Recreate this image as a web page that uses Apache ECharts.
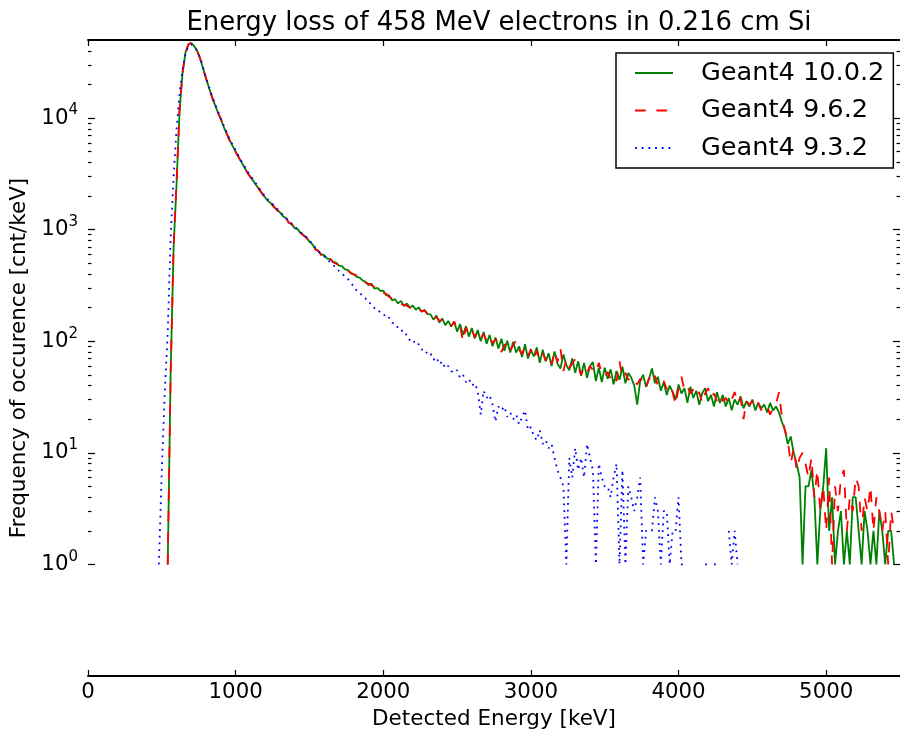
<!DOCTYPE html>
<html>
<head>
<meta charset="utf-8">
<script src="https://cdn.jsdelivr.net/npm/echarts@6/dist/echarts.min.js"></script>
<style>
    html, body { margin: 0; padding: 0; background: #fff; }
    #chart { width: 900px; height: 736px; }
</style>
</head>
<body>
<div id="chart"></div>
<script>
// bin centres [keV], 20 keV wide
const energies = [];
for (let e = 480; e <= 5460; e += 20) energies.push(e);

// cnt/keV, one row = 10 bins (200 keV), null = empty bin
const g4_10_0_2 = [
    null, null, null, 1, 55, 700, 2600, 11500, 25000, 38500,
    45500, 47000, 44000, 39800, 34000, 27600, 22600, 18600, 15400, 13100,
    11200, 9700, 8300, 7200, 6300, 5600, 5000, 4450, 4000, 3600,
    3240, 2950, 2730, 2490, 2300, 2090, 1940, 1800, 1720, 1590,
    1500, 1430, 1320, 1270, 1160, 1120, 1030, 1010, 930, 895,
    845, 780, 740, 670, 640, 600, 590, 550, 545, 515,
    505, 475, 470, 440, 435, 405, 400, 378, 372, 350,
    340, 318, 328, 296, 300, 282, 284, 258, 257, 232,
    238, 218, 230, 206, 218, 199, 209, 191, 201, 184,
    189, 175, 174, 156, 170, 147, 160, 139, 152, 135,
    150, 122, 142, 114, 136, 110, 131, 106, 126, 100,
    121, 95, 114, 90, 108, 86, 105, 82, 101, 79,
    99, 79, 90, 72, 94, 70, 83, 73, 88, 64,
    84, 66, 78, 60, 81, 63, 57, 76, 61, 55,
    70, 52, 66, 49, 64, 47, 60, 65, 44, 58,
    43, 58, 46, 56, 41, 54, 45, 59, 42, 52,
    47, 40, 27, 44, 50, 39, 46, 57, 42, 48,
    36, 43, 33, 40, 35, 30, 41, 34, 38, 28,
    39, 31, 36, 27, 34, 38, 29, 33, 26, 35,
    28, 33, 26, 31, 24, 30, 27, 32, 25, 29,
    26, 30, 24, 28, 25, 27, 23, 28, 24, 26,
    23, 19, 16, 12, 14, 10, 8, 6, 1, 5,
    5, 7, 4, 1, 3, 5, 11, 2, 4, 1,
    2, 3, 1, 2, 1, 4, 4, 2, 1, 3,
    2, 1, 2, 1, 3, 2, 1, 2, 2, 1
];

const g4_9_6_2 = [
    null, null, null, 1, 50, 720, 2700, 11800, 25500, 38000,
    45800, 47200, 43800, 39600, 34200, 27500, 22500, 18500, 15500, 13000,
    11150, 9750, 8250, 7250, 6250, 5650, 4950, 4480, 3980, 3620,
    3220, 2970, 2710, 2510, 2280, 2110, 1920, 1820, 1700, 1610,
    1490, 1440, 1310, 1280, 1150, 1130, 1020, 1000, 950, 880,
    850, 770, 745, 665, 645, 590, 595, 545, 550, 510,
    495, 480, 462, 445, 428, 410, 395, 388, 365, 358,
    335, 328, 318, 305, 292, 290, 272, 265, 250, 240,
    230, 226, 215, 212, 208, 200, 204, 192, 196, 185,
    190, 174, 176, 158, 165, 152, 155, 145, 147, 136,
    150, 128, 138, 100, 132, 116, 128, 108, 122, 106,
    116, 100, 110, 96, 104, 98, 80, 92, 98, 83,
    92, 102, 84, 77, 89, 74, 85, 70, 82, 68,
    78, 67, 75, 62, 82, 65, 86, 54, 69, 58,
    63, 69, 60, 50, 58, 52, 60, 55, 52, 64,
    51, 48, 53, 46, 50, 44, 66, 47, 52, 45,
    48, 43, 41, 46, 44, 38, 47, 42, 49, 40,
    39, 44, 37, 41, 35, 27, 38, 48, 36, 39,
    34, 37, 32, 35, 28, 34, 38, 31, 34, 29,
    33, 29, 31, 27, 30, 35, 28, 31, 20, 29,
    27, 29, 25, 28, 24, 27, 26, 22, 25, 27,
    35, 21, 16, 13, 8, 11, 7, 9, 10, 8,
    6, 9, 4, 7, 3, 5, 2, 6, 1, 5,
    3, 6, 7, 2, 4, 3, 6, 5, 2, 4,
    3, 5, 2, 4, 3, 2, 3, 1, 3, 2
];

const g4_9_3_2 = [
    1, 7, 35, 120, 850, 3000, 8000, 16500, 27000, 37500,
    44000, 45500, 43500, 39800, 34500, 28200, 23000, 19000, 15800, 13400,
    11500, 9950, 8550, 7400, 6450, 5750, 5150, 4580, 4100, 3700,
    3320, 3030, 2790, 2560, 2340, 2150, 1980, 1850, 1740, 1640,
    1540, 1450, 1360, 1280, 1190, 1120, 1055, 1010, 950, 900,
    850, 800, 745, 690, 640, 605, 575, 540, 510, 480,
    460, 425, 410, 375, 362, 328, 315, 283, 275, 250,
    242, 220, 218, 198, 196, 180, 178, 160, 162, 146,
    145, 131, 130, 114, 115, 102, 104, 92, 94, 84,
    85, 76, 78, 68, 72, 62, 66, 57, 60, 54,
    52, 55, 47, 50, 43, 46, 40, 42, 36, 22,
    36, 31, 33, 27, 19, 26, 24, 26, 21, 23,
    20, 22, 18, 21, 24, 16, 17, 14, 13, 16,
    12, 13, 11, 12, 9, 7, 6, 5, 1, 9,
    6, 11, 7, 9, 6, 12, 9, 7, 1, 8,
    6, 5, 5, 4, 6, 8, 1, 7, 1, 5,
    4, 3, 4, 6, 1, 2, 2, 2, 4, 3,
    1, 3, 3, 1, 2, 2, 4, 1, 1, null,
    null, null, null, null, null, 1, 1, null, 1, 1,
    null, null, null, 2, 1, 2, 1, null, null, null,
    null, null, null, null, null, null, null, null, null, null,
    null, null, null, null, null, null, null, null, null, null,
    null, null, null, null, null, null, null, null, null, null,
    null, null, null, null, null, null, null, null, null, null,
    null, null, null, null, null, null, null, null, null, null
];

const seriesNames = ["Geant4 10.0.2", "Geant4 9.6.2", "Geant4 9.3.2"];
const xTicks = [0, 1000, 2000, 3000, 4000, 5000];
const yMajor = [1, 10, 100, 1000, 10000];
const yMinor = [
    2, 3, 4, 5, 6, 7, 8, 9,
    20, 30, 40, 50, 60, 70, 80, 90,
    200, 300, 400, 500, 600, 700, 800, 900,
    2000, 3000, 4000, 5000, 6000, 7000, 8000, 9000,
    20000, 30000, 40000
];

const font = "DejaVu Sans";
const black = "#000";

function pairs(vals) {
    return energies.map((e, i) => [e, vals[i]]);
}

function xAxis(position, labels) {
    return {
        type: "value",
        position: position,
        min: 0,
        max: 5500,
        interval: 1000,
        splitLine: { show: false },
        axisLine: { show: true, onZero: false, lineStyle: { color: black, width: 1.8 } },
        axisTick: { show: true, inside: true, length: 6, customValues: xTicks, lineStyle: { color: black, width: 1.2 } },
        axisLabel: labels
            ? {
                show: true,
                customValues: xTicks,
                margin: 6,
                color: black,
                fontFamily: font,
                fontSize: 21.3,
                // only the round thousands get a label
                formatter: (v) => (xTicks.indexOf(v) >= 0 ? String(v) : "")
            }
            : { show: false }
    };
}

function yAxis(position, ticks, len, labels) {
    const ax = {
        type: "log",
        logBase: 10,
        position: position,
        min: 0.1,
        max: 50000,
        splitLine: { show: false },
        axisLine: { show: false, onZero: false },
        axisTick: { show: true, inside: true, length: len, customValues: ticks, lineStyle: { color: black, width: 1.2 } },
        axisLabel: { show: false }
    };
    if (labels) {
        ax.axisLabel = {
            show: true,
            customValues: yMajor,
            margin: 10,
            formatter: (v) => "{b|10}{e|" + Math.round(Math.log10(v)) + "}",
            rich: {
                b: { fontFamily: font, fontSize: 21.3, color: black },
                e: { fontFamily: font, fontSize: 15, color: black, padding: [0, 0, 15, 0] }
            }
        };
        ax.name = "Frequency of occurence [cnt/keV]";
        ax.nameLocation = "middle";
        ax.nameGap = 57;
        ax.nameTextStyle = { fontFamily: font, fontSize: 21.5, color: black };
    }
    return ax;
}

const chart = echarts.init(document.getElementById("chart"), null, { renderer: "canvas" });

const bottomX = xAxis("bottom", true);
bottomX.name = "Detected Energy [keV]";
bottomX.nameLocation = "middle";
bottomX.nameGap = 32;
bottomX.nameTextStyle = { fontFamily: font, fontSize: 21.5, color: black };

chart.setOption({
    animation: false,
    backgroundColor: "#fff",
    title: {
        text: "Energy loss of 458 MeV electrons in 0.216 cm Si",
        left: 499,
        top: 10,
        padding: 0,
        textAlign: "center",
        textStyle: { fontFamily: font, fontSize: 25.9, fontWeight: "normal", color: black }
    },
    grid: { left: 88, right: -6, top: 40, bottom: 60, containLabel: false },
    legend: {
        orient: "vertical",
        left: 616,
        top: 53,
        padding: [7, 9, 7, 18],
        itemWidth: 38,
        itemHeight: 26,
        itemGap: 11.5,
        itemStyle: { opacity: 0 },
        borderColor: black,
        borderWidth: 1.5,
        backgroundColor: "#fff",
        textStyle: { fontFamily: font, fontSize: 25.6, color: black, padding: [0, 0, 0, 23] },
        data: seriesNames
    },
    xAxis: [bottomX, xAxis("top", false)],
    yAxis: [
        yAxis("left", yMajor, 7, true),
        yAxis("left", yMinor, 3.5, false),
        yAxis("right", yMajor, 7, false),
        yAxis("right", yMinor, 3.5, false)
    ],
    series: [
        {
            name: seriesNames[0],
            type: "line",
            symbol: "none",
            data: pairs(g4_10_0_2),
            itemStyle: { color: "#008000" },
            lineStyle: { color: "#008000", width: 1.8 }
        },
        {
            name: seriesNames[1],
            type: "line",
            symbol: "none",
            data: pairs(g4_9_6_2),
            itemStyle: { color: "#ff0000" },
            lineStyle: { color: "#ff0000", width: 1.8, type: [10.7, 10.7] }
        },
        {
            name: seriesNames[2],
            type: "line",
            symbol: "none",
            data: pairs(g4_9_3_2),
            itemStyle: { color: "#0000ff" },
            lineStyle: { color: "#0000ff", width: 1.8, type: [1.8, 4.9] }
        }
    ]
});
</script>
</body>
</html>
